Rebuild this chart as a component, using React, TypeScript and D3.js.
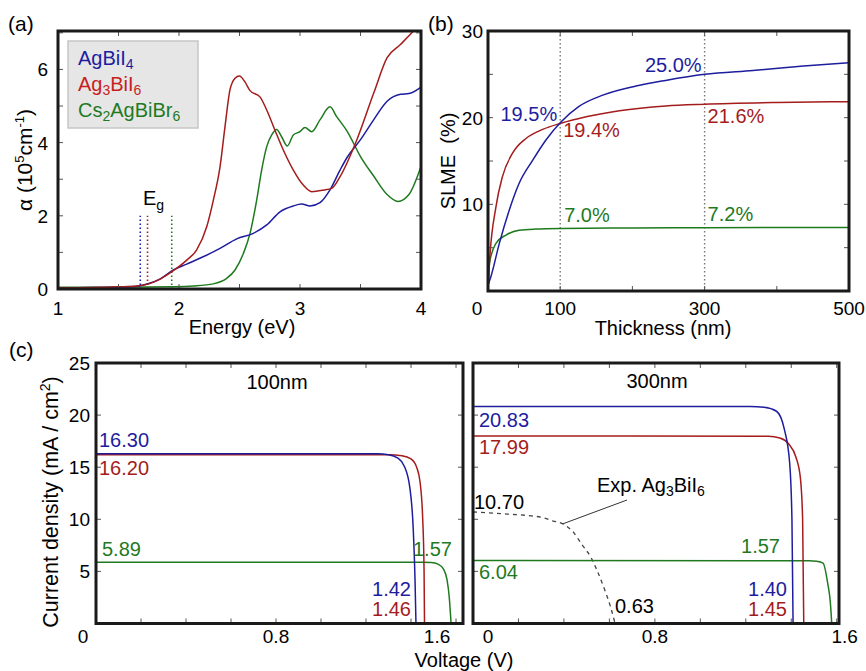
import React from "react";
import * as d3 from "d3";

// ---------- DATA ----------
// (a) absorption coefficient (10^5 cm^-1) vs energy (eV)
const absAgBiI4: [number, number][] = [
  [1.0, 0.03], [1.3, 0.04], [1.5, 0.05], [1.6, 0.06], [1.68, 0.09], [1.75, 0.15], [1.843, 0.27],
  [1.953, 0.52], [2.064, 0.68], [2.2, 0.88], [2.339, 1.11], [2.477, 1.37], [2.614, 1.52], [2.725, 1.75],
  [2.835, 2.11], [2.945, 2.27], [3.014, 2.32], [3.083, 2.27], [3.165, 2.36], [3.248, 2.71], [3.331, 3.25],
  [3.39, 3.6], [3.5, 4.08], [3.61, 4.63], [3.72, 5.13], [3.83, 5.32], [3.9, 5.34], [4.0, 5.52],
];
const absAg3BiI6: [number, number][] = [
  [1.0, 0.03], [1.3, 0.04], [1.5, 0.06], [1.65, 0.08], [1.75, 0.14], [1.843, 0.27], [1.953, 0.5],
  [2.064, 0.79], [2.146, 1.07], [2.229, 1.7], [2.284, 2.43], [2.339, 3.34], [2.38, 4.43], [2.421, 5.44],
  [2.463, 5.76], [2.499, 5.82], [2.545, 5.66], [2.587, 5.42], [2.669, 5.25], [2.725, 4.89], [2.793, 4.34],
  [2.862, 3.8], [2.945, 3.25], [3.027, 2.84], [3.097, 2.66], [3.193, 2.7], [3.262, 2.75], [3.331, 3.07],
  [3.47, 4.08], [3.61, 5.36], [3.72, 6.32], [3.83, 6.68], [3.95, 7.1], [4.0, 7.3],
];
const absCs2AgBiBr6: [number, number][] = [
  [1.0, 0.05], [1.5, 0.05], [1.95, 0.06], [2.118, 0.08], [2.284, 0.14], [2.394, 0.29], [2.463, 0.52],
  [2.532, 0.97], [2.587, 1.52], [2.642, 2.43], [2.683, 3.25], [2.725, 3.89], [2.766, 4.21], [2.807, 4.36],
  [2.848, 4.16], [2.895, 3.91], [2.945, 4.21], [3.0, 4.3], [3.041, 4.41], [3.097, 4.3], [3.165, 4.62],
  [3.248, 4.98], [3.303, 4.71], [3.39, 4.31], [3.5, 3.62], [3.61, 3.08], [3.72, 2.58], [3.81, 2.39],
  [3.9, 2.58], [4.0, 3.35],
];
const bandGaps = [1.68, 1.74, 1.94];
const absTicksX = [1, 2, 3, 4];
const absTicksY = [0, 2, 4, 6];

// (b) SLME (%) vs thickness (nm)
const slmeAgBiI4: [number, number][] = [
  [0.5, 0.8], [4, 1.65], [15.7, 5.5], [29.5, 9.35], [43, 12.4], [62, 15.1], [80, 17.4], [101, 19.5],
  [126, 21.3], [159, 22.6], [205, 23.65], [246, 24.3], [300, 25.0], [367, 25.45], [437, 25.96], [500, 26.35],
];
const slmeAg3BiI6: [number, number][] = [
  [0.5, 0.8], [2, 3.2], [11, 9.7], [20, 13.2], [34, 15.9], [52.6, 17.6], [75.7, 18.65], [101, 19.35],
  [136, 20.1], [182, 20.8], [246, 21.35], [300, 21.55], [400, 21.75], [500, 21.85],
];
const slmeCs2AgBiBr6: [number, number][] = [
  [0.5, 0.8], [2, 3.2], [11, 5.5], [25, 6.46], [43, 7.0], [66, 7.15], [101, 7.22], [200, 7.27],
  [300, 7.3], [500, 7.33],
];
const slmeTicksX = [0, 100, 300, 500];
const slmeTicksY = [10, 20, 30];
const slmeGuides = [100, 300];

// (c) J-V curves (V, mA/cm^2)
const jv100AgBiI4: [number, number][] = [
  [0, 16.3], [1.25, 16.28], [1.3, 16.2], [1.34, 15.9], [1.37, 15.1], [1.395, 13.0], [1.41, 9.0], [1.418, 4], [1.422, 0],
];
const jv100Ag3BiI6: [number, number][] = [
  [0, 16.2], [1.3, 16.19], [1.36, 16.1], [1.4, 15.8], [1.425, 15.0], [1.44, 13.6], [1.452, 10], [1.458, 5], [1.46, 0],
];
const jv100Cs2AgBiBr6: [number, number][] = [
  [0, 5.89], [1.45, 5.88], [1.49, 5.85], [1.52, 5.7], [1.545, 5.2], [1.56, 4.2], [1.57, 2.5], [1.578, 0],
];
const jv300AgBiI4: [number, number][] = [
  [0, 20.83], [1.22, 20.82], [1.28, 20.75], [1.335, 20.37], [1.37, 18.6], [1.393, 15.4], [1.403, 10], [1.408, 0],
];
const jv300Ag3BiI6: [number, number][] = [
  [0, 17.99], [1.3, 17.97], [1.35, 17.8], [1.39, 17.2], [1.42, 16.0], [1.44, 14], [1.45, 10], [1.455, 0],
];
const jv300Cs2AgBiBr6: [number, number][] = [
  [0, 6.04], [1.48, 6.03], [1.51, 5.98], [1.54, 5.8], [1.56, 3.9], [1.572, 2], [1.578, 0],
];
const jv300Exp: [number, number][] = [
  [0, 10.7], [0.15, 10.5], [0.3, 10.2], [0.35, 9.86], [0.4, 9.5], [0.44, 8.8], [0.48, 7.55],
  [0.52, 6.3], [0.55, 4.86], [0.58, 3.2], [0.605, 1.6], [0.625, 0],
];
const jvTicksX = [0, 0.8, 1.6];
const jvTicksY = [5, 10, 15, 20, 25];

// ---------- STYLE ----------
const BLUE = "#1d1d9e";
const RED = "#a51c1c";
const RED_LEG = "#c81e1e";
const GREEN = "#1f7a1f";
const FONT = "'Liberation Sans', Arial, Helvetica, sans-serif";
const TICK_FS = 19;
const LAB_FS = 20;

type Box = { x0: number; x1: number; y0: number; y1: number };

function Frame({ b, xt, yt, xs, ys, id }: { b: Box; xt: number[]; yt: number[]; xs: any; ys: any; id: string }) {
  const L = 5;
  return (
    <g>
      {xt.map((t) => (
        <g key={id + "x" + t}>
          <line x1={xs(t)} x2={xs(t)} y1={b.y0} y2={b.y0 + L} stroke="#555" strokeWidth={1} />
          <line x1={xs(t)} x2={xs(t)} y1={b.y1} y2={b.y1 - L} stroke="#555" strokeWidth={1} />
        </g>
      ))}
      {yt.map((t) => (
        <g key={id + "y" + t}>
          <line x1={b.x0} x2={b.x0 + L} y1={ys(t)} y2={ys(t)} stroke="#555" strokeWidth={1} />
          <line x1={b.x1} x2={b.x1 - L} y1={ys(t)} y2={ys(t)} stroke="#555" strokeWidth={1} />
        </g>
      ))}
      <rect x={b.x0} y={b.y0} width={b.x1 - b.x0} height={b.y1 - b.y0} fill="none" stroke="#1a1a1a" strokeWidth={3} />
    </g>
  );
}

export default function App() {
  // Panel a
  const bA: Box = { x0: 58, x1: 421, y0: 31, y1: 289 };
  const xA = d3.scaleLinear().domain([1, 4]).range([bA.x0, bA.x1]);
  const yA = d3.scaleLinear().domain([0, 7.05]).range([bA.y1, bA.y0]);
  const lineA = d3.line<[number, number]>().x((d) => xA(d[0])).y((d) => yA(d[1])).curve(d3.curveMonotoneX);

  // Panel b
  const bB: Box = { x0: 488, x1: 849, y0: 31, y1: 291 };
  const xB = d3.scaleLinear().domain([0, 500]).range([bB.x0, bB.x1]);
  const yB = d3.scaleLinear().domain([0, 30]).range([bB.y1, bB.y0]);
  const lineB = d3.line<[number, number]>().x((d) => xB(d[0])).y((d) => yB(d[1])).curve(d3.curveMonotoneX);

  // Panel c
  const bC1: Box = { x0: 96, x1: 463, y0: 363, y1: 623.5 };
  const bC2: Box = { x0: 473, x1: 839, y0: 363, y1: 623.5 };
  const xC1 = d3.scaleLinear().domain([0, 1.631]).range([bC1.x0, bC1.x1]);
  const xC2 = d3.scaleLinear().domain([0, 1.61]).range([bC2.x0, bC2.x1]);
  const yC = d3.scaleLinear().domain([0, 25]).range([bC1.y1, bC1.y0]);
  const lineC1 = d3.line<[number, number]>().x((d) => xC1(d[0])).y((d) => yC(d[1])).curve(d3.curveMonotoneX);
  const lineC2 = d3.line<[number, number]>().x((d) => xC2(d[0])).y((d) => yC(d[1])).curve(d3.curveMonotoneX);

  const minorA = d3.range(1, 4.01, 0.5);
  const minorAy = d3.range(0, 7.01, 1);
  const minorBx = d3.range(0, 501, 100);
  const minorBy = d3.range(0, 30.1, 5);
  const minorCx = d3.range(0, 1.61, 0.2);
  const minorCy = d3.range(0, 25.1, 5);

  const txt = (fs: number) => ({ fontFamily: FONT, fontSize: fs });

  return (
    <svg width={866} height={671} style={{ position: "absolute", left: 0, top: 0, background: "#fff" }}>
      <defs>
        <clipPath id="clipA"><rect x={bA.x0} y={bA.y0} width={bA.x1 - bA.x0} height={bA.y1 - bA.y0} /></clipPath>
        <clipPath id="clipB"><rect x={bB.x0} y={bB.y0} width={bB.x1 - bB.x0} height={bB.y1 - bB.y0} /></clipPath>
        <clipPath id="clipC1"><rect x={bC1.x0} y={bC1.y0} width={bC1.x1 - bC1.x0} height={bC1.y1 - bC1.y0} /></clipPath>
        <clipPath id="clipC2"><rect x={bC2.x0} y={bC2.y0} width={bC2.x1 - bC2.x0} height={bC2.y1 - bC2.y0} /></clipPath>
      </defs>
      <rect x={0} y={0} width={866} height={671} fill="#fff" />

      {/* ---------------- Panel (a) ---------------- */}
      <text x={8} y={31} {...txt(21)}>(a)</text>
      <rect x={68} y={41} width={130} height={87} fill="#e6e6e6" stroke="#c6c6c6" strokeWidth={1.5} />
      <text x={78} y={65} fill={BLUE} {...txt(LAB_FS)}>AgBiI<tspan fontSize={14} dy={4}>4</tspan></text>
      <text x={78} y={91} fill={RED_LEG} {...txt(LAB_FS)}>Ag<tspan fontSize={14} dy={4}>3</tspan><tspan dy={-4}>BiI</tspan><tspan fontSize={14} dy={4}>6</tspan></text>
      <text x={78} y={117} fill={GREEN} {...txt(LAB_FS)}>Cs<tspan fontSize={14} dy={4}>2</tspan><tspan dy={-4}>AgBiBr</tspan><tspan fontSize={14} dy={4}>6</tspan></text>
      <g clipPath="url(#clipA)">
        {bandGaps.map((e, i) => (
          <line key={"eg" + i} x1={xA(e)} x2={xA(e)} y1={yA(0)} y2={yA(2)} stroke={[BLUE, RED, GREEN][i]} strokeWidth={1.6} strokeDasharray="1.6,2.4" />
        ))}
        <path d={lineA(absCs2AgBiBr6)!} fill="none" stroke={GREEN} strokeWidth={1.5} />
        <path d={lineA(absAgBiI4)!} fill="none" stroke={BLUE} strokeWidth={1.5} />
        <path d={lineA(absAg3BiI6)!} fill="none" stroke={RED} strokeWidth={1.5} />
      </g>
      <text x={143} y={205} {...txt(LAB_FS)}>E<tspan fontSize={14} dy={5}>g</tspan></text>
      <Frame b={bA} xt={minorA} yt={minorAy} xs={xA} ys={yA} id="a" />
      {absTicksX.map((t) => (
        <text key={"ax" + t} x={xA(t)} y={315} textAnchor="middle" {...txt(TICK_FS)}>{t}</text>
      ))}
      {absTicksY.map((t) => (
        <text key={"ay" + t} x={48} y={yA(t) + 7} textAnchor="end" {...txt(TICK_FS)}>{t}</text>
      ))}
      <text x={242} y={334} textAnchor="middle" {...txt(LAB_FS)}>Energy (eV)</text>
      <text transform="translate(25,160) rotate(-90)" textAnchor="middle" dy="0.35em" {...txt(21)}>
        α (10<tspan fontSize={13} dy={-8}>5</tspan><tspan dy={8}>cm</tspan><tspan fontSize={13} dy={-8}>-1</tspan><tspan dy={8}>)</tspan>
      </text>

      {/* ---------------- Panel (b) ---------------- */}
      <text x={428} y={31} {...txt(21)}>(b)</text>
      {slmeGuides.map((g) => (
        <line key={"g" + g} x1={xB(g)} x2={xB(g)} y1={bB.y0} y2={bB.y1} stroke="#777" strokeWidth={1.4} strokeDasharray="1.5,2.5" />
      ))}
      <g clipPath="url(#clipB)">
        <path d={lineB(slmeCs2AgBiBr6)!} fill="none" stroke={GREEN} strokeWidth={1.5} />
        <path d={lineB(slmeAg3BiI6)!} fill="none" stroke={RED} strokeWidth={1.5} />
        <path d={lineB(slmeAgBiI4)!} fill="none" stroke={BLUE} strokeWidth={1.5} />
      </g>
      <Frame b={bB} xt={minorBx} yt={minorBy} xs={xB} ys={yB} id="b" />
      <text x={xB(300) - 3} y={72} textAnchor="end" fill={BLUE} {...txt(LAB_FS)}>25.0%</text>
      <text x={xB(100) - 3} y={121} textAnchor="end" fill={BLUE} {...txt(LAB_FS)}>19.5%</text>
      <text x={xB(100) + 3} y={137} fill={RED} {...txt(LAB_FS)}>19.4%</text>
      <text x={xB(300) + 3} y={123} fill={RED} {...txt(LAB_FS)}>21.6%</text>
      <text x={xB(100) + 4} y={222} fill={GREEN} {...txt(LAB_FS)}>7.0%</text>
      <text x={xB(300) + 3} y={221} fill={GREEN} {...txt(LAB_FS)}>7.2%</text>
      {slmeTicksX.map((t) => (
        <text key={"bx" + t} x={t === 0 ? xB(t) - 11 : xB(t)} y={315} textAnchor="middle" {...txt(TICK_FS)}>{t}</text>
      ))}
      {slmeTicksY.map((t) => (
        <text key={"by" + t} x={483} y={yB(t) + 7} textAnchor="end" {...txt(TICK_FS)}>{t}</text>
      ))}
      <text x={663} y={335} textAnchor="middle" {...txt(LAB_FS)}>Thickness (nm)</text>
      <text transform="translate(448,161) rotate(-90)" textAnchor="middle" dy="0.35em" style={{ whiteSpace: "pre" }} {...txt(LAB_FS)}>SLME  (%)</text>

      {/* ---------------- Panel (c) ---------------- */}
      <text x={9} y={357} {...txt(21)}>(c)</text>
      <g clipPath="url(#clipC1)">
        <path d={lineC1(jv100Cs2AgBiBr6)!} fill="none" stroke={GREEN} strokeWidth={1.5} />
        <path d={lineC1(jv100Ag3BiI6)!} fill="none" stroke={RED} strokeWidth={1.5} />
        <path d={lineC1(jv100AgBiI4)!} fill="none" stroke={BLUE} strokeWidth={1.5} />
      </g>
      <Frame b={bC1} xt={minorCx} yt={minorCy} xs={xC1} ys={yC} id="c1" />
      <g clipPath="url(#clipC2)">
        <path d={lineC2(jv300Exp)!} fill="none" stroke="#444" strokeWidth={1.3} strokeDasharray="4,4" />
        <path d={lineC2(jv300Cs2AgBiBr6)!} fill="none" stroke={GREEN} strokeWidth={1.5} />
        <path d={lineC2(jv300Ag3BiI6)!} fill="none" stroke={RED} strokeWidth={1.5} />
        <path d={lineC2(jv300AgBiI4)!} fill="none" stroke={BLUE} strokeWidth={1.5} />
      </g>
      <Frame b={bC2} xt={minorCx} yt={minorCy} xs={xC2} ys={yC} id="c2" />

      <text x={277} y={389} textAnchor="middle" {...txt(LAB_FS)}>100nm</text>
      <text x={99} y={447} fill={BLUE} {...txt(LAB_FS)}>16.30</text>
      <text x={99} y={475} fill={RED} {...txt(LAB_FS)}>16.20</text>
      <text x={102} y={556} fill={GREEN} {...txt(LAB_FS)}>5.89</text>
      <text x={413} y={556} fill={GREEN} {...txt(LAB_FS)}>1.57</text>
      <text x={411} y={596} textAnchor="end" fill={BLUE} {...txt(LAB_FS)}>1.42</text>
      <text x={411} y={616} textAnchor="end" fill={RED} {...txt(LAB_FS)}>1.46</text>

      <text x={657} y={388} textAnchor="middle" {...txt(LAB_FS)}>300nm</text>
      <text x={479} y={427} fill={BLUE} {...txt(LAB_FS)}>20.83</text>
      <text x={479} y={454} fill={RED} {...txt(LAB_FS)}>17.99</text>
      <text x={474} y={509} {...txt(LAB_FS)}>10.70</text>
      <text x={479} y={579} fill={GREEN} {...txt(LAB_FS)}>6.04</text>
      <text x={780} y={553} textAnchor="end" fill={GREEN} {...txt(LAB_FS)}>1.57</text>
      <text x={787} y={596} textAnchor="end" fill={BLUE} {...txt(LAB_FS)}>1.40</text>
      <text x={787} y={616} textAnchor="end" fill={RED} {...txt(LAB_FS)}>1.45</text>
      <text x={615} y={613} {...txt(LAB_FS)}>0.63</text>
      <line x1={xC2(0.396)} y1={yC(9.57)} x2={627} y2={500} stroke="#333" strokeWidth={1} />
      <text x={597} y={492} {...txt(LAB_FS)}>Exp. Ag<tspan fontSize={14} dy={4}>3</tspan><tspan dy={-4}>BiI</tspan><tspan fontSize={14} dy={4}>6</tspan></text>

      {jvTicksX.map((t) => (
        <text key={"c1x" + t} x={t === 0 ? xC1(t) - 13 : t === 1.6 ? xC1(t) - 19 : xC1(t)} y={643} textAnchor="middle" {...txt(TICK_FS)}>{t}</text>
      ))}
      {jvTicksX.map((t) => (
        <text key={"c2x" + t} x={t === 0 ? xC2(t) + 15 : t === 1.6 ? xC2(t) + 8 : xC2(t)} y={643} textAnchor="middle" {...txt(TICK_FS)}>{t}</text>
      ))}
      {jvTicksY.map((t) => (
        <text key={"cy" + t} x={90} y={yC(t) + 7} textAnchor="end" {...txt(TICK_FS)}>{t}</text>
      ))}
      <text x={464} y={667} textAnchor="middle" {...txt(LAB_FS)}>Voltage (V)</text>
      <text transform="translate(50,502) rotate(-90)" textAnchor="middle" dy="0.35em" {...txt(21.5)}>
        Current density (mA / cm<tspan fontSize={14} dy={-8}>2</tspan><tspan dy={8}>)</tspan>
      </text>
    </svg>
  );
}
